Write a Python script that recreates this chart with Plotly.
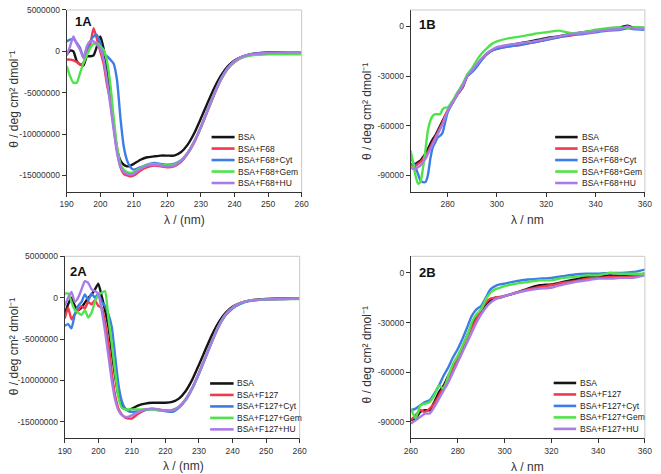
import plotly.graph_objects as go

W, H = 661, 474

# ---------------- names / colours ----------------
names_1 = ["BSA", "BSA+F68", "BSA+F68+Cyt", "BSA+F68+Gem", "BSA+F68+HU"]
names_2 = ["BSA", "BSA+F127", "BSA+F127+Cyt", "BSA+F127+Gem", "BSA+F127+HU"]
colors = ["#151515", "#f2384c", "#3d7de6", "#4fe34b", "#a97be6"]
panel_labels = ["1A", "1B", "2A", "2B"]

# ---------------- panel A data (values in units of 1e6) ----------------
wl_A = [190, 191, 192, 193, 194, 195, 196, 197, 198, 199, 200, 201, 202, 203, 204, 205,
        206, 207, 208, 209, 210, 212, 214, 216, 218, 220, 222, 224, 226, 228, 230, 232,
        234, 236, 238, 240, 242, 245, 250, 255, 260]

bsa_1A = [-0.4, 0.1, 0.0, -1.2, -1.6, -1.7, -0.6, -0.6, -0.5, 0.6, 1.8, 0.3, -2.5, -5.5, -9.0, -11.8,
          -13.2, -13.7, -13.9, -13.8, -13.6, -13.1, -12.8, -12.7, -12.6, -12.6, -12.6, -12.2, -11.3, -9.9, -8.1, -6.2,
          -4.4, -2.9, -1.8, -1.1, -0.7, -0.35, -0.15, -0.1, -0.1]
f68_1A = [-1.0, -1.0, -1.1, -1.3, -1.6, -1.4, -0.3, 0.8, 2.8, 1.5, 0.0, -1.5, -4.0, -6.0, -9.0, -12.0,
          -14.0, -14.8, -15.0, -15.1, -15.0, -14.4, -14.0, -13.8, -13.9, -14.0, -13.9, -13.4, -12.4, -11.0, -9.2, -7.2,
          -5.2, -3.4, -2.1, -1.3, -0.8, -0.4, -0.2, -0.15, -0.1]
cyt_1A = [1.2, 1.4, 1.5, 1.0, 0.4, -0.8, 0.3, 1.2, 1.8, 2.0, 1.0, -0.3, -0.6, -1.0, -1.5, -3.5,
          -8.0, -11.5, -13.2, -14.0, -14.3, -14.0, -13.7, -13.5, -13.6, -13.7, -13.6, -13.2, -12.3, -10.9, -9.1, -7.1,
          -5.1, -3.3, -2.0, -1.2, -0.7, -0.35, -0.2, -0.15, -0.1]
gem_1A = [-1.8, -3.0, -3.8, -3.8, -2.6, -1.4, -0.5, 0.4, 0.9, 1.0, 0.6, 0.2, -1.2, -4.0, -8.0, -11.5,
          -13.6, -14.3, -14.6, -14.7, -14.6, -14.1, -13.7, -13.6, -13.7, -13.8, -13.7, -13.2, -12.3, -10.9, -9.1, -7.1,
          -5.1, -3.4, -2.1, -1.3, -0.8, -0.5, -0.35, -0.35, -0.35]
hu_1A = [-0.5, 0.6, 1.8, 0.9, 0.2, -0.8, 0.6, 1.2, 1.2, 0.8, 0.3, -1.0, -3.5, -6.5, -9.5, -12.3,
         -13.9, -14.6, -14.8, -14.9, -14.8, -14.2, -13.8, -13.7, -13.8, -13.9, -13.8, -13.3, -12.3, -10.9, -9.1, -7.1,
         -5.1, -3.3, -2.0, -1.2, -0.7, -0.35, -0.2, -0.15, -0.1]

bsa_2A = [-2.0, -0.8, 0.0, -1.0, -1.5, -1.2, -0.6, 0.0, 0.4, 1.0, 1.7, 0.2, -1.5, -3.5, -6.5, -9.5,
          -11.8, -12.9, -13.4, -13.6, -13.4, -13.0, -12.8, -12.7, -12.7, -12.7, -12.6, -12.2, -11.3, -9.9, -8.1, -6.2,
          -4.4, -2.9, -1.8, -1.1, -0.7, -0.35, -0.15, -0.1, -0.1]
f127_2A = [-2.5, -1.2, -2.6, -2.0, -1.5, -1.0, -1.3, -0.5, -0.8, -0.3, -1.0, -1.2, -3.0, -5.5, -9.0, -11.8,
           -13.4, -14.1, -14.5, -14.6, -14.6, -14.0, -13.6, -13.4, -13.5, -13.7, -13.6, -13.2, -12.3, -10.9, -9.1, -7.1,
           -5.1, -3.3, -2.0, -1.2, -0.7, -0.35, -0.2, -0.15, -0.1]
cyt_2A = [-3.4, -3.2, -3.7, -2.0, -1.0, -0.5, 0.4, -0.3, 0.5, 0.0, 0.5, -0.5, -1.0, -2.0, -3.5, -7.0,
          -10.5, -12.5, -13.4, -13.7, -13.8, -13.7, -13.5, -13.5, -13.6, -13.7, -13.8, -13.3, -12.4, -11.0, -9.2, -7.2,
          -5.2, -3.4, -2.1, -1.3, -0.8, -0.4, -0.2, -0.15, -0.1]
gem_2A = [0.5, 0.5, -0.5, -1.5, -1.8, -2.1, -1.5, -2.4, -1.8, -0.5, 0.3, 0.6, 0.8, -2.5, -5.5, -9.0,
          -12.0, -13.3, -13.5, -13.5, -13.5, -13.5, -13.5, -13.5, -13.6, -13.6, -13.6, -13.2, -12.3, -10.9, -9.1, -7.1,
          -5.1, -3.3, -2.0, -1.2, -0.7, -0.35, -0.2, -0.15, -0.15]
hu_2A = [-1.0, 0.0, 0.7, -0.5, 0.0, 1.0, 2.0, 1.8, 1.0, 0.8, 0.5, -1.5, -4.0, -7.0, -10.0, -12.3,
         -13.6, -14.2, -14.4, -14.4, -14.2, -13.8, -13.5, -13.4, -13.5, -13.6, -13.6, -13.2, -12.3, -10.9, -9.1, -7.1,
         -5.1, -3.3, -2.0, -1.2, -0.7, -0.35, -0.2, -0.15, -0.1]

# ---------------- panel 1B data (values in units of 1e3) ----------------
wl_1B = [265, 266, 267, 268, 269, 270, 271, 272, 273, 274, 275, 276, 277, 278, 279, 280,
         282, 284, 286, 288, 290, 292, 294, 296, 298, 300, 305, 310, 315, 320, 325, 330,
         335, 340, 345, 350, 353, 355, 360]
bsa_1B = [-83, -84, -83, -82, -81, -79, -77, -74, -71, -68, -66, -63, -60, -57, -54, -51,
          -46, -41, -37, -30, -27, -23, -19.5, -16.5, -14.5, -13, -11.5, -10, -8.5, -7, -6, -4.5,
          -3.5, -2.5, -1.5, -0.5, 0.5, -0.5, -1]
f68_1B = [-83, -84, -84, -83, -82, -80, -78, -76, -73, -70, -67, -64, -61, -58, -54, -51,
          -46, -41, -37, -30, -27, -23, -19.5, -16.5, -14.5, -13.5, -12, -11, -9.5, -8, -6.5, -5.5,
          -4, -3, -2, -1.5, -1, -1, -1.5]
cyt_1B = [-78, -82, -85, -89, -93, -94, -94, -90, -80, -73, -70, -67, -66, -64, -58, -52,
          -46, -40, -36, -30, -27.5, -24, -20, -16.5, -14.5, -13.5, -12, -11, -9.5, -8, -6.5, -5,
          -4.5, -3.5, -2.5, -2, -1, -1.5, -2]
gem_1B = [-75, -82, -90, -95, -94, -86, -75, -63, -57, -54, -53, -53, -53, -50, -49, -49,
          -45, -40, -35, -29, -25, -20, -16, -13, -10.5, -9, -7, -6, -4.5, -3.5, -2.5, -4,
          -3.5, -2, -1, -0.5, -1, -0.5, -0.5]
hu_1B = [-85, -86, -86, -85, -84, -82, -80, -77, -74, -71, -68, -65, -62, -59, -55, -51,
         -46, -41, -36, -30, -26.5, -22.5, -19, -16, -14, -12.5, -11, -10, -9, -7.5, -6, -4.5,
         -4, -3, -2, -1.5, 0, -1, -1.5]

# ---------------- panel 2B data (values in units of 1e3) ----------------
wl_2B = [260, 262, 264, 266, 268, 270, 272, 274, 276, 278, 280, 282, 284, 286, 288, 290,
         292, 294, 296, 298, 300, 305, 310, 315, 320, 325, 330, 335, 340, 345, 350, 355, 360]
bsa_2B = [-89, -88, -84, -83, -83, -78, -72, -68, -62, -57, -51, -45, -38, -32, -27, -23,
          -19, -16.5, -15, -15, -14, -12, -9.5, -7.5, -7, -5.5, -4, -2.5, -2.5, -1.5, -2, -1.5, -0.5]
f127_2B = [-89, -86, -83, -84, -82, -79, -74, -69, -64, -58, -52, -46, -39, -33, -28, -22,
           -18, -15.5, -15, -14.5, -14, -12, -10, -8.5, -7.5, -6, -5, -3.5, -3, -2.5, -2.5, -2, -0.5]
cyt_2B = [-83, -82, -80, -78, -77, -73, -68, -62, -57, -51, -46, -40, -33, -26, -22, -20,
          -15, -10, -8, -7, -6.5, -5, -4, -3.5, -3, -2, -1, -0.5, -0.5, 0, 0, 0.5, 2]
gem_2B = [-82, -88, -80, -79, -78, -74, -68, -70, -62, -55, -50, -44, -38, -30, -25, -22,
          -16, -12, -10, -9, -8, -6.5, -5.5, -4.5, -4.5, -3, -2.5, -1.5, -1.5, 0, -0.5, -0.5, -0.5]
hu_2B = [-91, -89, -87, -85, -85, -81, -76, -71, -66, -60, -54, -48, -42, -36, -30, -25,
         -21, -18, -16, -15, -14, -12, -10.5, -9.5, -9, -7, -5.5, -4.5, -3.5, -3.5, -3, -3, -1.5]

# ---------------- axis ticks ----------------
xt_A = [190, 200, 210, 220, 230, 240, 250, 260]
yt_A = [5000000, 0, -5000000, -10000000, -15000000]
yt_A_text = ["5000000", "0", "-5000000", "-10000000", "-15000000"]
xt_1B = [280, 300, 320, 340, 360]
xt_2B = [260, 280, 300, 320, 340, 360]
yt_B = [0, -30000, -60000, -90000]
yt_B_text = ["0", "-30000", "-60000", "-90000"]

FONT = "Liberation Sans, Arial, sans-serif"
AX = "#333333"


def px(x):
    return x / W


def py(y):
    return 1 - y / H


panels = [
    dict(xa="x", ya="y", wl=wl_A, ys=[bsa_1A, f68_1A, cyt_1A, gem_1A, hu_1A], scale=1e6, names=names_1),
    dict(xa="x2", ya="y2", wl=wl_1B, ys=[bsa_1B, f68_1B, cyt_1B, gem_1B, hu_1B], scale=1e3, names=names_1),
    dict(xa="x3", ya="y3", wl=wl_A, ys=[bsa_2A, f127_2A, cyt_2A, gem_2A, hu_2A], scale=1e6, names=names_2),
    dict(xa="x4", ya="y4", wl=wl_2B, ys=[bsa_2B, f127_2B, cyt_2B, gem_2B, hu_2B], scale=1e3, names=names_2),
]

fig = go.Figure()
for p in panels:
    for name, ys, col in zip(p["names"], p["ys"], colors):
        fig.add_trace(go.Scatter(
            x=p["wl"], y=[v * p["scale"] for v in ys], name=name, mode="lines",
            line=dict(color=col, width=2.4, shape="spline", smoothing=0.5),
            xaxis=p["xa"], yaxis=p["ya"], showlegend=False, hoverinfo="skip"))


def axis_common():
    return dict(showline=True, linecolor=AX, linewidth=1, ticks="outside", ticklen=4,
                tickwidth=1, tickcolor=AX, showgrid=False, zeroline=False, mirror=False,
                tickfont=dict(family=FONT, size=8.5, color=AX))


# pixel boxes of each plotting area: (left, right, top, bottom)
boxes = [(61, 301, 5, 189), (412.3, 651.7, 5, 189), (59, 299, 254, 438), (412.7, 651.7, 254, 438)]
xranges = [[190, 260], [265, 360], [190, 260], [260, 360]]
yranges = [[-17e6, 5e6], [-100000, 10000], [-17e6, 5e6], [-100000, 10000]]
xticks = [xt_A, xt_1B, xt_A, xt_2B]
yticks = [(yt_A, yt_A_text), (yt_B, yt_B_text), (yt_A, yt_A_text), (yt_B, yt_B_text)]

layout_axes = {}
for i, (b, xr, yr, xt, (ytv, ytt)) in enumerate(zip(boxes, xranges, yranges, xticks, yticks)):
    k = "" if i == 0 else str(i + 1)
    xa = axis_common()
    xa.update(domain=[px(b[0]), px(b[1])], range=xr, tickvals=xt, anchor="y" + k)
    ya = axis_common()
    ya.update(domain=[py(b[3]), py(b[2])], range=yr, tickvals=ytv, ticktext=ytt, anchor="x" + k)
    layout_axes["xaxis" + k] = xa
    layout_axes["yaxis" + k] = ya

shapes = []
annotations = []
for i, b in enumerate(boxes):
    # light top and right frame
    shapes.append(dict(type="line", xref="paper", yref="paper", x0=px(b[0]), x1=px(b[1]),
                       y0=py(b[2]), y1=py(b[2]), line=dict(color="#c9c9c9", width=1)))
    shapes.append(dict(type="line", xref="paper", yref="paper", x0=px(b[1]), x1=px(b[1]),
                       y0=py(b[2]), y1=py(b[3]), line=dict(color="#c9c9c9", width=1)))

# axis titles
xtitles = [("λ / (nm)", 181, 217), ("λ / nm", 532, 217), ("λ / (nm)", 180, 466), ("λ / nm", 532, 467)]
ytitles = [(7, 95), (368, 108), (8, 345), (368, 354)]
ytitle_text = "θ / deg cm² dmol⁻¹"
for t, x, y in xtitles:
    annotations.append(dict(text=t, x=px(x), y=py(y), xref="paper", yref="paper", showarrow=False,
                            xanchor="center", yanchor="middle",
                            font=dict(family=FONT, size=12, color=AX)))
for x, y in ytitles:
    annotations.append(dict(text=ytitle_text, x=px(x), y=py(y), xref="paper", yref="paper",
                            showarrow=False, textangle=-90, xanchor="center", yanchor="middle",
                            font=dict(family=FONT, size=12, color=AX)))

# panel labels
label_pos = [(78, 17), (430, 20), (73, 269), (430, 270)]
for lab, (x, y) in zip(panel_labels, label_pos):
    annotations.append(dict(text="<b>" + lab + "</b>", x=px(x), y=py(y), xref="paper", yref="paper",
                            showarrow=False, xanchor="center", yanchor="middle",
                            font=dict(family=FONT, size=13, color="#111111")))

# legends (line x0, line x1, text x, first row y)
legend_pos = [(209, 232.5, 234, 133.5, names_1), (560, 583, 585, 133.5, names_1),
              (207.5, 231.5, 233, 382.5, names_2), (558.5, 581.5, 583.5, 382, names_2)]
row_gap = 11.6
for x0, x1, tx, y0, names in legend_pos:
    for j, (nm, col) in enumerate(zip(names, colors)):
        y = y0 + j * row_gap
        shapes.append(dict(type="line", xref="paper", yref="paper", x0=px(x0), x1=px(x1),
                           y0=py(y), y1=py(y), line=dict(color=col, width=2.6)))
        annotations.append(dict(text=nm, x=px(tx), y=py(y), xref="paper", yref="paper",
                                showarrow=False, xanchor="left", yanchor="middle",
                                font=dict(family=FONT, size=8.5, color="#222222")))

fig.update_layout(
    width=W, height=H, margin=dict(l=0, r=0, t=0, b=0),
    paper_bgcolor="white", plot_bgcolor="white", showlegend=False,
    shapes=shapes, annotations=annotations, **layout_axes)

fig.write_html("out.html", config={"displayModeBar": False},
               post_script="document.body.style.margin='0px';document.body.style.overflow='hidden';")
